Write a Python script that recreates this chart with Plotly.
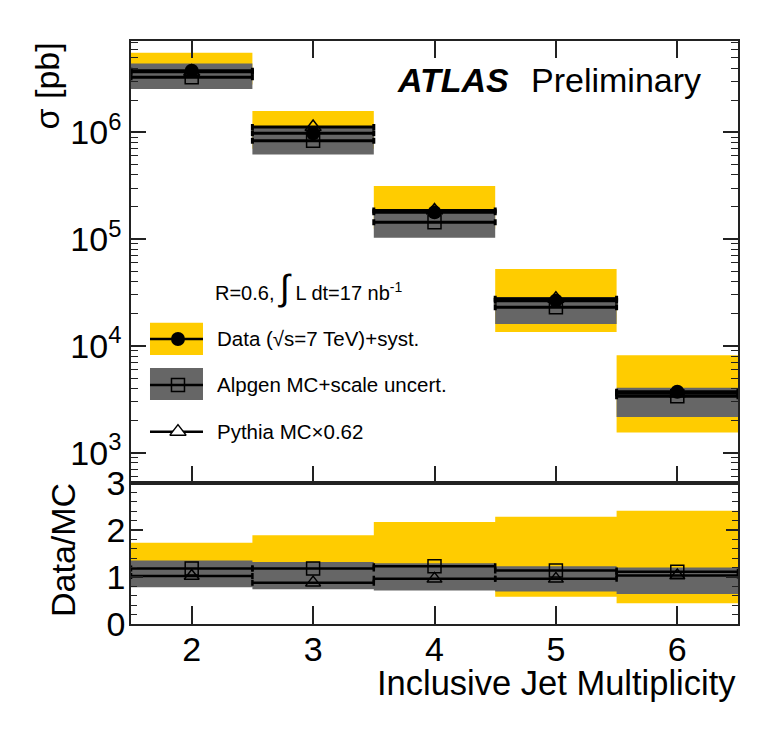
import plotly.graph_objects as go

# ---------------- data ----------------
jets = [2, 3, 4, 5, 6]
bin_half_width = 0.5

xsec_data = [3.78e6, 0.98e6, 1.78e5, 2.65e4, 3.72e3]
xsec_data_syst_up = [5.56e6, 1.58e6, 3.14e5, 5.25e4, 8.17e3]
xsec_data_syst_dn = [2.80e6, 0.70e6, 1.25e5, 1.35e4, 1.54e3]
xsec_alpgen = [3.27e6, 0.835e6, 1.44e5, 2.30e4, 3.38e3]
xsec_alpgen_up = [4.40e6, 1.10e6, 1.86e5, 2.85e4, 4.06e3]
xsec_alpgen_dn = [2.55e6, 0.62e6, 1.03e5, 1.60e4, 2.16e3]
xsec_pythia = [3.70e6, 1.12e6, 1.85e5, 2.76e4, 3.60e3]

ratio_alpgen = [1.18, 1.18, 1.23, 1.14, 1.11]
ratio_pythia = [1.02, 0.88, 0.96, 0.96, 1.03]
ratio_syst_up = [1.73, 1.89, 2.17, 2.28, 2.41]
ratio_syst_dn = [0.86, 0.84, 0.87, 0.58, 0.44]
ratio_mc_up = [1.35, 1.32, 1.29, 1.23, 1.20]
ratio_mc_dn = [0.78, 0.74, 0.71, 0.69, 0.64]

y_tick_vals = [1e3, 1e4, 1e5, 1e6]
y_tick_text = ["10<sup>3</sup>", "10<sup>4</sup>", "10<sup>5</sup>", "10<sup>6</sup>"]
ratio_tick_vals = [0, 1, 2, 3]
x_tick_text = ["2", "3", "4", "5", "6"]

# ---------------- styles ----------------
YELLOW = "#FFCC00"
GREY = "#666666"
AXC = "#222222"
FONT = "Liberation Sans, Arial, Helvetica, sans-serif"


def band_polygons(xs, lo, hi, hw):
    px, py = [], []
    for x, l, h in zip(xs, lo, hi):
        px += [x - hw, x + hw, x + hw, x - hw, x - hw, None]
        py += [l, l, h, h, l, None]
    return px, py


fig = go.Figure()

# ---------- top panel ----------
bx, by = band_polygons(jets, xsec_data_syst_dn, xsec_data_syst_up, bin_half_width)
fig.add_trace(go.Scatter(x=bx, y=by, fill="toself", fillcolor=YELLOW, mode="lines",
                         line=dict(width=0, color=YELLOW), xaxis="x", yaxis="y",
                         hoverinfo="skip"))
bx, by = band_polygons(jets, xsec_alpgen_dn, xsec_alpgen_up, bin_half_width)
fig.add_trace(go.Scatter(x=bx, y=by, fill="toself", fillcolor=GREY, mode="lines",
                         line=dict(width=0, color=GREY), xaxis="x", yaxis="y",
                         hoverinfo="skip"))

errx = dict(type="data", array=[bin_half_width] * len(jets), color="black",
            thickness=3, width=3)

fig.add_trace(go.Scatter(x=jets, y=xsec_alpgen, mode="markers", xaxis="x", yaxis="y",
                         marker=dict(symbol="square-open", size=13, color="black",
                                     line=dict(width=1.5, color="black")),
                         error_x=errx))
fig.add_trace(go.Scatter(x=jets, y=xsec_pythia, mode="markers", xaxis="x", yaxis="y",
                         marker=dict(symbol="triangle-up-open", size=14, color="black",
                                     line=dict(width=1.5, color="black")),
                         error_x=errx))
fig.add_trace(go.Scatter(x=jets, y=xsec_data, mode="markers", xaxis="x", yaxis="y",
                         marker=dict(symbol="circle", size=14, color="black"),
                         error_x=errx))

# ---------- ratio panel ----------
bx, by = band_polygons(jets, ratio_syst_dn, ratio_syst_up, bin_half_width)
fig.add_trace(go.Scatter(x=bx, y=by, fill="toself", fillcolor=YELLOW, mode="lines",
                         line=dict(width=0, color=YELLOW), xaxis="x2", yaxis="y2",
                         hoverinfo="skip"))
bx, by = band_polygons(jets, ratio_mc_dn, ratio_mc_up, bin_half_width)
fig.add_trace(go.Scatter(x=bx, y=by, fill="toself", fillcolor=GREY, mode="lines",
                         line=dict(width=0, color=GREY), xaxis="x2", yaxis="y2",
                         hoverinfo="skip"))
errx2 = dict(type="data", array=[bin_half_width] * len(jets), color="black",
             thickness=2.5, width=3)
fig.add_trace(go.Scatter(x=jets, y=ratio_alpgen, mode="markers", xaxis="x2", yaxis="y2",
                         marker=dict(symbol="square-open", size=13, color="black",
                                     line=dict(width=1.5, color="black")),
                         error_x=errx2))
fig.add_trace(go.Scatter(x=jets, y=ratio_pythia, mode="markers", xaxis="x2", yaxis="y2",
                         marker=dict(symbol="triangle-up-open", size=13, color="black",
                                     line=dict(width=1.5, color="black")),
                         error_x=errx2))

# ---------- legend key markers (overlay axes in top-panel fractions) ----------
leg_x = 0.0774
leg_y = [0.3258, 0.2217, 0.1161]
fig.add_trace(go.Scatter(x=[leg_x], y=[leg_y[0]], mode="markers", xaxis="x3", yaxis="y3",
                         marker=dict(symbol="circle", size=14, color="black")))
fig.add_trace(go.Scatter(x=[leg_x], y=[leg_y[1]], mode="markers", xaxis="x3", yaxis="y3",
                         marker=dict(symbol="square-open", size=13, color="black",
                                     line=dict(width=1.5, color="black"))))
fig.add_trace(go.Scatter(x=[leg_x], y=[leg_y[2]], mode="markers", xaxis="x3", yaxis="y3",
                         marker=dict(symbol="triangle-up", size=14, color="white",
                                     line=dict(width=1.5, color="black"))))

for tr in fig.data:
    tr.showlegend = False

split = 0.2419
minor_log = [m * 10 ** e for e in range(2, 7) for m in range(2, 10)]

axis_common = dict(showgrid=False, zeroline=False, showline=True, linecolor=AXC,
                   linewidth=1.5, ticks="inside", tickcolor=AXC, tickwidth=1.5,
                   tickfont=dict(family=FONT, size=34, color="black"))

fig.update_layout(
    width=759, height=726,
    margin=dict(l=123, r=29, t=33, b=110),
    paper_bgcolor="white",
    plot_bgcolor="white",
    font=dict(family=FONT, color="black"),
    xaxis=dict(domain=[0, 1], anchor="y", range=[1.5, 6.5], tickmode="array",
               tickvals=jets, showticklabels=False, ticklen=17, mirror="ticks",
               **axis_common),
    yaxis=dict(domain=[split, 1], anchor="x", type="log", range=[2.716, 6.855],
               tickmode="array", tickvals=y_tick_vals, ticktext=y_tick_text,
               ticklen=15, mirror="ticks", ticklabelstandoff=1,
               minor=dict(tickmode="array", tickvals=minor_log, ticklen=7,
                          ticks="inside", tickcolor=AXC, tickwidth=1.2),
               **axis_common),
    xaxis2=dict(domain=[0, 1], anchor="y2", range=[1.5, 6.5], tickmode="array",
                tickvals=jets, ticktext=x_tick_text, ticklen=18, mirror=True,
                ticklabelstandoff=-6,
                **axis_common),
    yaxis2=dict(domain=[0, split], anchor="x2", range=[0, 3], tickmode="array",
                tickvals=ratio_tick_vals, ticklen=12, mirror="ticks",
                ticklabelstandoff=-3,
                minor=dict(dtick=0.2, ticklen=6, ticks="inside", tickcolor=AXC,
                           tickwidth=1.2),
                **axis_common),
    xaxis3=dict(overlaying="x", range=[0, 1], visible=False),
    yaxis3=dict(overlaying="y", range=[0, 1], visible=False),
)

# legend key boxes and lines (top-panel domain fractions), drawn below markers
fig.add_shape(type="rect", xref="x domain", yref="y domain", x0=0.0313, x1=0.1186,
              y0=0.2896, y1=0.3627, fillcolor=YELLOW, line=dict(width=0), layer="below")
fig.add_shape(type="rect", xref="x domain", yref="y domain", x0=0.0313, x1=0.1186,
              y0=0.1878, y1=0.2602, fillcolor=GREY, line=dict(width=0), layer="below")
for yy in leg_y:
    fig.add_shape(type="line", xref="x domain", yref="y domain", x0=0.0313, x1=0.1186,
                  y0=yy, y1=yy, line=dict(color="black", width=2.5), layer="below")

# texts
fig.add_annotation(xref="x domain", yref="y domain", x=0.4349, y=0.9118,
                   text="<b><i>ATLAS</i></b>", showarrow=False, xanchor="left",
                   yanchor="middle", font=dict(family=FONT, size=34, color="black"))
fig.add_annotation(xref="x domain", yref="y domain", x=0.9423, y=0.9118,
                   text="Preliminary", showarrow=False, xanchor="right",
                   yanchor="middle", font=dict(family=FONT, size=34, color="black"))
fig.add_annotation(xref="x domain", yref="y domain", x=0.1351, y=0.4434,
                   text="R=0.6, <span style='font-size:36px'>∫</span> L dt=17 nb<sup>-1</sup>",
                   showarrow=False, xanchor="left", yanchor="middle",
                   font=dict(family=FONT, size=20, color="black"))
legend_texts = ["Data (√s=7 TeV)+syst.", "Alpgen MC+scale uncert.", "Pythia MC×0.62"]
for t, yy in zip(legend_texts, leg_y):
    fig.add_annotation(xref="x domain", yref="y domain", x=0.1384, y=yy, text=t,
                       showarrow=False, xanchor="left", yanchor="middle",
                       font=dict(family=FONT, size=20.5, color="black"))

fig.add_annotation(xref="paper", yref="paper", x=1.0, y=-0.1012,
                   text="Inclusive Jet Multiplicity", showarrow=False,
                   xanchor="right", yanchor="middle",
                   font=dict(family=FONT, size=34.5, color="black"))
fig.add_annotation(xref="paper", yref="paper", x=-0.1384, y=1.0017, text="σ [pb]",
                   textangle=-90, showarrow=False, xanchor="center", yanchor="top",
                   font=dict(family=FONT, size=34, color="black"))
fig.add_annotation(xref="paper", yref="paper", x=-0.1120, y=0.1269, text="Data/MC",
                   textangle=-90, showarrow=False, xanchor="center", yanchor="middle",
                   font=dict(family=FONT, size=34, color="black"))

fig.write_html("out.html")
